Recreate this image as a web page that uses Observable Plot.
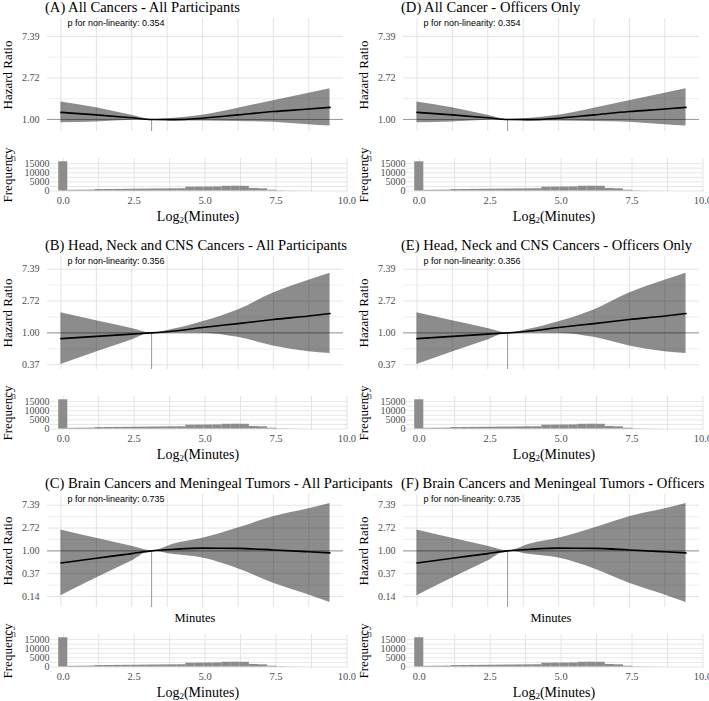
<!DOCTYPE html>
<html><head><meta charset="utf-8">
<script src="https://cdn.jsdelivr.net/npm/d3@7"></script>
<script src="https://cdn.jsdelivr.net/npm/@observablehq/plot@0.6"></script>
<style>
body{margin:0;background:#fff;}
#root{position:relative;width:709px;height:701px;overflow:hidden;font-family:"Liberation Serif","Times New Roman",serif;color:#000;}
.abs{position:absolute;white-space:nowrap;}
.title{font-size:14.6px;line-height:16px;}
.ylab{font-size:13px;line-height:14px;transform:translate(-50%,-50%) rotate(-90deg);}
.xlab{font-size:14px;line-height:16px;transform:translate(-50%,-50%);}
.mlab{font-size:12.5px;line-height:14px;transform:translate(-50%,-50%);}
svg{overflow:visible;}
svg text{font-family:"Liberation Serif","Times New Roman",serif;}
svg g[aria-label="text"] text{font-family:"Liberation Sans",Arial,sans-serif;}
</style></head><body><div id="root"></div><script>
// ---- data ----
const titles = [
  "(A) All Cancers - All Participants",
  "(B) Head, Neck and CNS Cancers - All Participants",
  "(C) Brain Cancers and Meningeal Tumors - All Participants",
  "(D) All Cancer - Officers Only",
  "(E) Head, Neck and CNS Cancers - Officers Only",
  "(F) Brain Cancers and Meningeal Tumors - Officers"
];
const pValues = ["0.354", "0.356", "0.735", "0.354", "0.356", "0.735"];

// spline knots along Log2(Minutes)
const xKnots = [0, 1.25, 2.5, 3.2, 4, 5, 6.25, 7.5, 8.75, 9.5];
const refX = 3.2;

// log hazard ratio: fitted line, upper and lower 95% bounds
const allLine  = [0.17, 0.11, 0.04, 0, -0.005, 0.03, 0.11, 0.19, 0.25, 0.29];
const allUpper = [0.42, 0.28, 0.10, 0, 0.03, 0.10, 0.27, 0.45, 0.63, 0.74];
const allLower = [-0.08, -0.06, -0.02, 0, -0.04, -0.04, -0.05, -0.07, -0.13, -0.16];

const hncLine  = [-0.18, -0.11, -0.04, 0, 0.06, 0.17, 0.29, 0.42, 0.53, 0.61];
const hncUpper = [0.63, 0.38, 0.14, 0, 0.12, 0.35, 0.72, 1.25, 1.65, 1.87];
const hncLower = [-0.99, -0.60, -0.22, 0, 0.00, -0.01, -0.14, -0.41, -0.59, -0.65];

const brainLine  = [-0.53, -0.32, -0.12, 0, 0.07, 0.12, 0.11, 0.04, -0.04, -0.09];
const brainUpper = [0.91, 0.55, 0.20, 0, 0.30, 0.55, 1.00, 1.50, 1.85, 2.08];
const brainLower = [-1.97, -1.19, -0.44, 0, -0.16, -0.31, -0.78, -1.42, -1.93, -2.26];

// y-domain (log HR) of each hazard panel
const yDomains = [[-0.29, 2.43], [-1.15, 2.40], [-2.48, 2.47]];

// histogram of Log2(Minutes)
const binWidth = 0.32;
const binCenters = [0, 0.32, 0.64, 0.96, 1.28, 1.60, 1.92, 2.24, 2.56, 2.88, 3.20, 3.52, 3.84, 4.16, 4.48, 4.80,
  5.12, 5.44, 5.76, 6.08, 6.40, 6.72, 7.04, 7.36, 7.68, 8.00, 8.32, 8.64, 8.96, 9.28, 9.60];
const binCounts = [16000, 400, 450, 500, 800, 850, 900, 950, 1000, 1050, 1100, 1150, 1200, 1250, 2100, 2150,
  2200, 2250, 2600, 2650, 2600, 1400, 1200, 450, 150, 80, 40, 20, 10, 5, 3];

// ticks (log HR positions, labelled as HR)
const hrTicksLog = [-2, -1, 0, 1, 2];
const hrMinorLog = [-2.5, -1.5, -0.5, 0.5, 1.5, 2.5];
const xGrid = [0, 1.25, 2.5, 3.75, 5, 6.25, 7.5, 8.75, 10];
const histXTicks = [0, 2.5, 5, 7.5, 10];
const histYTicks = [0, 5000, 10000, 15000];
const histYGrid = [0, 2500, 5000, 7500, 10000, 12500, 15000];

// ---- build ----
const series = [
  [allLine, allUpper, allLower],
  [hncLine, hncUpper, hncLower],
  [brainLine, brainUpper, brainLower]
];
const serif = "'Liberation Serif','Times New Roman',serif";
const bins = binCenters.map((c, i) => ({x1: c - binWidth / 2, x2: c + binWidth / 2, n: binCounts[i]}));

function hazardPlot(k, pText) {
  const [line, upper, lower] = series[k];
  const rows = xKnots.map((x, i) => ({x, lhr: line[i], hi: upper[i], lo: lower[i]}));
  const yd = yDomains[k];
  const major = hrTicksLog.filter(t => t >= yd[0] && t <= yd[1]);
  const minor = hrMinorLog.filter(t => t >= yd[0] && t <= yd[1]);
  return Plot.plot({
    width: 357, height: 140,
    marginLeft: 47, marginRight: 14, marginTop: 18, marginBottom: 9,
    style: {fontFamily: serif, fontSize: "10px", color: "#4d4d4d", background: "transparent"},
    x: {domain: [-0.475, 9.975], axis: null},
    y: {domain: yd, axis: null},
    marks: [
      Plot.gridX(xGrid.filter(v => v <= 9.975), {stroke: "#e3e3e3", strokeOpacity: 1, strokeWidth: 1}),
      Plot.gridY(minor, {stroke: "#ebebeb", strokeOpacity: 1, strokeWidth: 0.8}),
      Plot.gridY(major, {stroke: "#e3e3e3", strokeOpacity: 1, strokeWidth: 1}),
      Plot.axisY(major, {tickSize: 0, tickPadding: 8, tickFormat: d => Math.exp(d).toFixed(2),
        fill: "#4d4d4d", fontFamily: serif, fontSize: 10}),
      Plot.ruleY([0], {stroke: "#999", strokeWidth: 1}),
      Plot.ruleX([refX], {y1: 0, y2: yd[0], stroke: "#999", strokeWidth: 1}),
      Plot.areaY(rows, {x: "x", y1: "lo", y2: "hi", fill: "#000", fillOpacity: 0.45, curve: "monotone-x"}),
      Plot.lineY(rows, {x: "x", y: "lhr", stroke: "#000", strokeWidth: 1.6, curve: "monotone-x"}),
      Plot.text([`p for non-linearity: ${pText}`], {frameAnchor: "top-left", dx: 20, dy: 1, text: d => d,
        textAnchor: "start", lineAnchor: "top", fontFamily: "'Liberation Sans',Arial,sans-serif", fontSize: 9, fill: "#000"})
    ]
  });
}

function histPlot() {
  return Plot.plot({
    width: 357, height: 62,
    marginLeft: 50, marginRight: 10, marginTop: 8, marginBottom: 20,
    style: {fontFamily: serif, fontSize: "10px", color: "#4d4d4d", background: "transparent"},
    x: {domain: [-0.45, 10.02], axis: null},
    y: {domain: [-800, 17800], axis: null},
    marks: [
      Plot.gridX(xGrid, {stroke: "#e3e3e3", strokeOpacity: 1, strokeWidth: 1}),
      Plot.gridY(histYGrid, {stroke: "#e3e3e3", strokeOpacity: 1, strokeWidth: 0.9}),
      Plot.rect(bins, {x1: "x1", x2: "x2", y1: 0, y2: "n", fill: "#8c8c8c"}),
      Plot.axisX(histXTicks, {tickSize: 0, tickPadding: 4, tickFormat: d => d.toFixed(1),
        fill: "#4d4d4d", fontFamily: serif, fontSize: 10.5}),
      Plot.axisY(histYTicks, {tickSize: 0, tickPadding: 1, tickFormat: d => String(d),
        fill: "#4d4d4d", fontFamily: serif, fontSize: 10})
    ]
  });
}

const root = document.getElementById("root");
function place(el, left, top) {
  el.style.position = "absolute"; el.style.left = left + "px"; el.style.top = top + "px";
  root.appendChild(el);
}
function label(cls, text, left, top, html) {
  const d = document.createElement("div");
  d.className = "abs " + cls;
  if (html) d.innerHTML = text; else d.textContent = text;
  d.style.left = left + "px"; d.style.top = top + "px";
  root.appendChild(d);
}

for (let p = 0; p < 6; p++) {
  const col = Math.floor(p / 3), row = p % 3;
  const ox = col * 356, oy = row * 238;
  place(hazardPlot(row, pValues[p]), ox, oy);
  place(histPlot(), ox, oy + 150);
  label("title", titles[p], ox + 45, oy - 1);
  label("ylab", "Hazard Ratio", ox + 8, oy + 75);
  label("ylab", "Frequency", ox + 8, oy + 175);
  label("xlab", "Log<sub style='font-size:9px;vertical-align:-2px'>2</sub>(Minutes)", ox + 198, oy + 218, true);
  if (row === 2) label("mlab", "Minutes", ox + 195, oy + 142);
}
</script></body></html>
